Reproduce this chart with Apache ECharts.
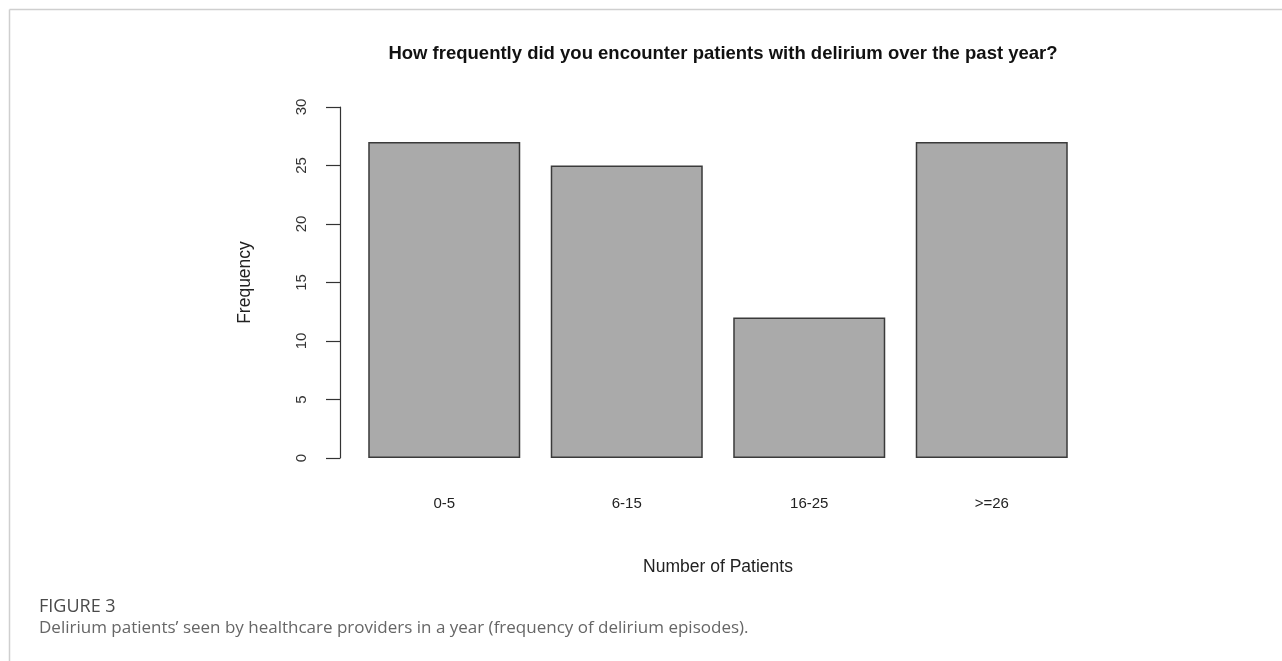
<!DOCTYPE html>
<html>
<head>
<meta charset="utf-8">
<script src="https://cdn.jsdelivr.net/npm/echarts@6/dist/echarts.min.js"></script>
<style>
html,body{margin:0;padding:0;background:#fff;}
#c{width:1282px;height:661px;}
</style>
</head>
<body>
<div id="c"></div>
<script>
const categories = ['0-5', '6-15', '16-25', '>=26'];
const frequency = [27, 25, 12, 27];
const yTicks = [0, 5, 10, 15, 20, 25, 30];
const chartTitle = 'How frequently did you encounter patients with delirium over the past year?';
const xName = 'Number of Patients';
const yName = 'Frequency';
const figLabel = 'FIGURE 3';
const figCaption = 'Delirium patients\u2019 seen by healthcare providers in a year (frequency of delirium episodes).';

const chart = echarts.init(document.getElementById('c'), null, {renderer: 'canvas'});
const font = 'Liberation Sans, Arial, sans-serif';
chart.setOption({
  backgroundColor: '#fff',
  animation: false,
  title: [
    {text: chartTitle, left: 718, top: 39, textAlign: 'center',
     textStyle: {fontFamily: font, fontSize: 18.5, fontWeight: 'bold', color: '#111'}},
    {text: figLabel, left: 34, top: 593,
     textStyle: {fontFamily: 'Open Sans, Lato, sans-serif', fontSize: 18, fontWeight: 'normal', color: '#4a4a4a'}},
    {text: figCaption, left: 34, top: 615,
     textStyle: {fontFamily: 'Open Sans, Lato, sans-serif', fontSize: 17, fontWeight: 'normal', color: '#666'}}
  ],
  graphic: [
    {type: 'line', shape: {x1: 9.5, y1: 9.5, x2: 1282, y2: 9.5}, style: {stroke: '#cfcfcf', lineWidth: 1.5}},
    {type: 'line', shape: {x1: 9.5, y1: 9.5, x2: 9.5, y2: 661}, style: {stroke: '#cfcfcf', lineWidth: 1.5}}
  ],
  grid: {left: 353, top: 107, width: 730, height: 351, containLabel: false},
  xAxis: {
    type: 'category',
    data: categories,
    axisLine: {show: false},
    axisTick: {show: false},
    axisLabel: {margin: 38, fontFamily: font, fontSize: 15, color: '#222'},
    name: xName,
    nameLocation: 'middle',
    nameGap: 100,
    nameTextStyle: {fontFamily: font, fontSize: 17.5, color: '#222'}
  },
  yAxis: {
    type: 'value',
    min: 0, max: 30, interval: 5,
    offset: 13,
    splitLine: {show: false},
    axisLine: {show: true, lineStyle: {color: '#333', width: 1.2}},
    axisTick: {show: true, length: 14, lineStyle: {color: '#333', width: 1.2}},
    axisLabel: {rotate: 90, margin: 31, fontFamily: font, fontSize: 15, color: '#333',
      formatter: v => yTicks.includes(v) ? String(v) : ''},
    name: yName,
    nameLocation: 'middle',
    nameRotate: 90,
    nameGap: 86,
    nameTextStyle: {fontFamily: font, fontSize: 17.5, color: '#222'}
  },
  series: [{
    type: 'bar',
    data: frequency,
    barCategoryGap: '16.7%',
    itemStyle: {color: '#aaaaaa', borderColor: '#3a3a3a', borderWidth: 1.5},
    silent: true
  }]
});
</script>
</body>
</html>
